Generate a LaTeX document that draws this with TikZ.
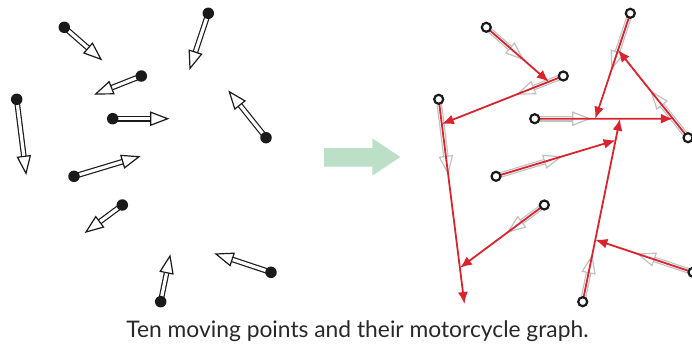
\documentclass[tikz,border=0pt]{standalone}
\usepackage{fontspec}
\setmainfont{Lato}
\usetikzlibrary{calc,arrows.meta}

\definecolor{mcred}{RGB}{218,35,45}
\definecolor{trailgray}{RGB}{192,192,192}
\definecolor{flowgreen}{RGB}{188,223,199}
\definecolor{inkblack}{RGB}{26,26,26}
\definecolor{captiongray}{RGB}{40,40,40}

\tikzset{
  dot/.style={circle, fill=inkblack, inner sep=0pt, minimum size=11.5pt},
  ring/.style={circle, draw=inkblack, line width=2.2pt, fill=white, inner sep=0pt, minimum size=9pt},
  trace/.style={draw=mcred, line width=1.8pt, -{Latex[length=12pt,width=10pt]}},
  motionline/.style={line width=1.2pt, double=white, double distance=3.2pt},
  motionhead/.style={line width=1.2pt, fill=white, line join=miter},
}

% hollow arrow: colour, start point, tip
\newcommand\motion[3]{%
  \coordinate (hb) at ($(#3)!17pt!(#2)$);
  \draw[#1, motionline] (#2) -- (hb);
  \draw[#1, motionhead] (#3) -- ($(hb)!6.5pt!90:(#3)$) -- ($(hb)!6.5pt!-90:(#3)$) -- cycle;
}

\begin{document}
\begin{tikzpicture}[x=1pt, y=-1pt]
\useasboundingbox (0,0) rectangle (692,348);

% start points and direction tips of the ten moving points
\foreach \n/\px/\py/\tx/\ty in {
  a/64.3/27.3/101/59.3,
  b/208.3/13.3/190/68.3,
  c/141.3/76/95.7/94,
  d/16.7/99.3/26/173.3,
  e/112.7/118.7/167.7/118.7,
  f/266/137.7/229.3/91.7,
  g/74/176.3/139/156.7,
  h/122.3/205/86/232,
  i/160.7/301.7/170/256,
  j/271/272.3/216/254}{
  \coordinate (L\n) at (\px,\py);
  \coordinate (LT\n) at (\tx,\ty);
  \coordinate (R\n) at (\px+422,\py);
  \coordinate (RT\n) at (\tx+422,\ty);
}

% left panel: points with their velocity arrows
\foreach \n in {a,b,c,d,e,f,g,h,i,j}{
  \motion{inkblack}{L\n}{LT\n}
  \node[dot] (dot\n) at (L\n) {};
}

% transition arrow
\fill[flowgreen] (324,148) -- (372.3,148) -- (372.3,138.3) -- (400.3,157)
  -- (372.3,175.7) -- (372.3,166.7) -- (324,166.7) -- cycle;

% right panel: faded velocity arrows
\foreach \n in {a,b,c,d,e,f,g,h,i,j}{
  \motion{trailgray}{R\n}{RT\n}
}

% motorcycle graph: each trace stops where it meets an earlier one
\coordinate (Xa) at (intersection of Ra--RTa and Rc--RTc);
\coordinate (Xc) at (intersection of Rc--RTc and Rd--RTd);
\coordinate (Xd) at ($(Rd)!2.766!(RTd)$);
\coordinate (Xh) at (intersection of Rh--RTh and Rd--RTd);
\coordinate (Xe) at (intersection of Re--RTe and Rf--RTf);
\coordinate (Xb) at (intersection of Rb--RTb and Re--RTe);
\coordinate (Xf) at (intersection of Rf--RTf and Rb--RTb);
\coordinate (Xi) at (intersection of Ri--RTi and Re--RTe);
\coordinate (Xg) at (intersection of Rg--RTg and Ri--RTi);
\coordinate (Xj) at (intersection of Rj--RTj and Ri--RTi);

\foreach \n in {a,b,c,d,e,f,g,h,i,j}{
  \draw[trace] (R\n) -- (X\n);
}
\foreach \n in {a,b,c,d,e,f,g,h,i,j}{
  \node[ring] (ring\n) at (R\n) {};
}

\node[anchor=base, text=captiongray, font=\fontsize{22.8}{27}\selectfont, inner sep=0pt]
  (caption) at (357.5,337) {Ten moving points and their motorcycle graph.};
\end{tikzpicture}
\end{document}
